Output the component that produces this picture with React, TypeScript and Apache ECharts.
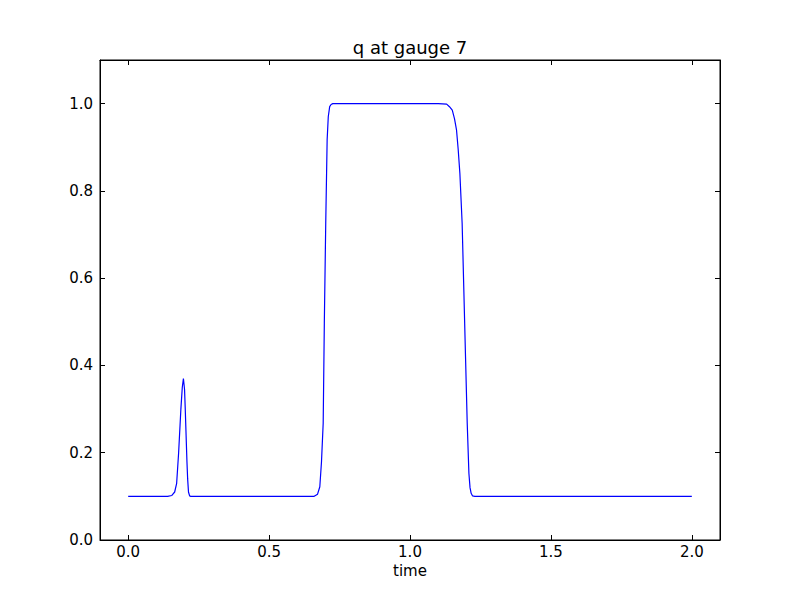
import React, { useEffect, useRef } from "react";
import * as echarts from "echarts";

const times = [
  0, 0.14, 0.155, 0.165, 0.172, 0.179, 0.187, 0.192, 0.196, 0.2, 0.2025, 0.2055, 0.2085, 0.211, 0.214, 0.218, 0.222,
  0.66, 0.672, 0.68, 0.686, 0.692, 0.696, 0.701, 0.706, 0.71, 0.715, 0.72, 0.726,
  1.1, 1.13, 1.14, 1.15, 1.158, 1.165, 1.171, 1.177, 1.185, 1.191, 1.197, 1.203, 1.209, 1.213, 1.217, 1.222, 1.23,
  2.0,
];
const qValues = [
  0.1, 0.1, 0.102, 0.11, 0.13, 0.2, 0.3, 0.35, 0.37, 0.345, 0.3, 0.24, 0.18, 0.14, 0.11, 0.101, 0.1,
  0.1, 0.105, 0.122, 0.18, 0.268, 0.497, 0.726, 0.917, 0.97, 0.993, 0.998, 1.0,
  1.0, 0.999, 0.993, 0.985, 0.965, 0.94, 0.895, 0.84, 0.726, 0.573, 0.42, 0.268, 0.153, 0.12, 0.107, 0.101, 0.1,
  0.1,
];
const xTicks = [0, 0.5, 1.0, 1.5, 2.0];
const yTicks = [0, 0.2, 0.4, 0.6, 0.8, 1.0];

export default function App() {
  const ref = useRef<HTMLDivElement>(null);
  useEffect(() => {
    if (!ref.current) return;
    const chart = echarts.init(ref.current, undefined, { renderer: "svg" });
    const font = "DejaVu Sans";
    const lineStyle = { color: "#000", width: 1 };
    const tick = { show: true, inside: true, length: 5, lineStyle: { color: "#000", width: 1 } };
    chart.setOption({
      animation: false,
      backgroundColor: "#fff",
      title: {
        text: "q at gauge 7",
        left: 405,
        textAlign: "center",
        top: 33,
        textStyle: { fontFamily: font, fontSize: 18, fontWeight: "normal", color: "#000" },
      },
      grid: { left: 100, right: 80, top: 60, bottom: 60, show: true, borderColor: "#000", borderWidth: 1 },
      xAxis: [
        {
          type: "value",
          min: -0.1,
          max: 2.1,
          position: "bottom",
          name: "time",
          nameLocation: "middle",
          nameGap: 22,
          nameTextStyle: { fontFamily: font, fontSize: 15, color: "#000" },
          axisLine: { show: true, onZero: false, lineStyle },
          axisTick: { ...tick, customValues: xTicks },
          axisLabel: {
            customValues: xTicks,
            fontFamily: font,
            fontSize: 15,
            color: "#000",
            margin: 4,
            formatter: (v: number) => v.toFixed(1),
          },
          splitLine: { show: false },
        },
        {
          type: "value",
          min: -0.1,
          max: 2.1,
          position: "top",
          axisLine: { show: true, onZero: false, lineStyle },
          axisTick: { ...tick, customValues: xTicks },
          axisLabel: { show: false, customValues: xTicks },
          splitLine: { show: false },
        },
      ],
      yAxis: [
        {
          type: "value",
          min: 0,
          max: 1.1,
          position: "left",
          axisLine: { show: true, onZero: false, lineStyle },
          axisTick: { ...tick, customValues: yTicks },
          axisLabel: {
            customValues: yTicks,
            fontFamily: font,
            fontSize: 15,
            color: "#000",
            margin: 7,
            formatter: (v: number) => v.toFixed(1),
          },
          splitLine: { show: false },
        },
        {
          type: "value",
          min: 0,
          max: 1.1,
          position: "right",
          axisLine: { show: true, onZero: false, lineStyle },
          axisTick: { ...tick, customValues: yTicks },
          axisLabel: { show: false, customValues: yTicks },
          splitLine: { show: false },
        },
      ],
      series: [
        {
          type: "line",
          data: times.map((t, i) => [t, qValues[i]]),
          showSymbol: false,
          symbol: "none",
          lineStyle: { color: "#0000ff", width: 1.2 },
          xAxisIndex: 0,
          yAxisIndex: 0,
        },
      ],
    });
    return () => chart.dispose();
  }, []);
  return <div ref={ref} style={{ width: 800, height: 600, position: "absolute", left: 0, top: 0 }} />;
}
